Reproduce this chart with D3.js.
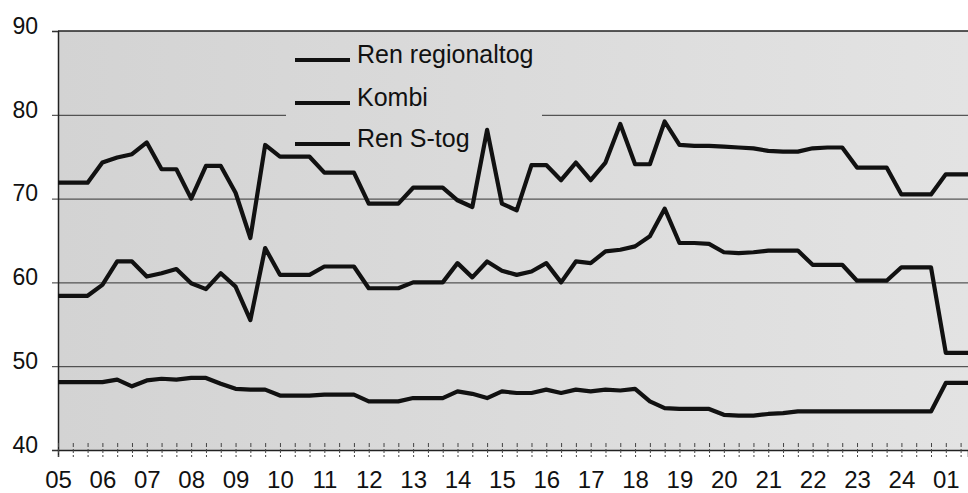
<!DOCTYPE html>
<html>
<head>
<meta charset="utf-8">
<script src="https://cdn.jsdelivr.net/npm/d3@7"></script>
<style>
  html, body { margin: 0; padding: 0; background: #fff; }
  svg { display: block; font-family: "Liberation Sans", Arial, sans-serif; }
</style>
</head>
<body>
<div class="main-container"></div>
<script>
// x labels, one every third point
const xLabels = ["05","06","07","08","09","10","11","12","13","14","15","16","17","18","19","20","21","22","23","24","01"];
const yTicks = [40, 50, 60, 70, 80, 90];
const seriesNames = ["Ren regionaltog", "Kombi", "Ren S-tog"];

// last point sits just past the right edge (the lines run flat off the chart)
const renRegional = [71.9,71.9,71.9,74.3,74.9,75.3,76.7,73.5,73.5,70.0,73.9,73.9,70.7,65.3,76.4,75.0,75.0,75.0,73.1,73.1,73.1,
  69.4,69.4,69.4,71.3,71.3,71.3,69.8,69.0,78.2,69.4,68.6,74.0,74.0,72.2,74.3,72.2,74.3,78.9,74.1,74.1,
  79.2,76.4,76.3,76.3,76.2,76.1,76.0,75.7,75.6,75.6,76.0,76.1,76.1,73.7,73.7,73.7,70.5,70.5,70.5,72.9,72.9,72.9];
const kombi = [58.4,58.4,58.4,59.7,62.5,62.5,60.7,61.1,61.6,59.9,59.2,61.1,59.5,55.5,64.1,60.9,60.9,60.9,61.9,61.9,61.9,
  59.3,59.3,59.3,60.0,60.0,60.0,62.3,60.6,62.5,61.4,60.9,61.3,62.3,60.0,62.5,62.3,63.7,63.9,64.3,65.5,
  68.8,64.7,64.7,64.6,63.6,63.5,63.6,63.8,63.8,63.8,62.1,62.1,62.1,60.2,60.2,60.2,61.8,61.8,61.8,51.6,51.6,51.6];
const renStog = [48.1,48.1,48.1,48.1,48.4,47.6,48.3,48.5,48.4,48.6,48.6,47.9,47.3,47.2,47.2,46.5,46.5,46.5,46.6,46.6,46.6,
  45.8,45.8,45.8,46.2,46.2,46.2,47.0,46.7,46.2,47.0,46.8,46.8,47.2,46.8,47.2,47.0,47.2,47.1,47.3,45.8,
  45.0,44.9,44.9,44.9,44.2,44.1,44.1,44.3,44.4,44.6,44.6,44.6,44.6,44.6,44.6,44.6,44.6,44.6,44.6,48.0,48.0,48.0];

const W = 968, H = 493;
const L = 58, R = 968, T = 31, B = 450;

const svg = d3.select(".main-container").append("svg").attr("width", W).attr("height", H);

const x = d3.scaleLinear().domain([0, 61.5]).range([L, R]);
const y = d3.scaleLinear().domain([40, 90]).range([B, T]);

const defs = svg.append("defs");
const grad = defs.append("linearGradient").attr("id", "bg")
  .attr("gradientUnits", "userSpaceOnUse").attr("x1", L).attr("x2", R).attr("y1", 0).attr("y2", 0);
grad.append("stop").attr("offset", "0%").attr("stop-color", "#d3d3d3");
grad.append("stop").attr("offset", "100%").attr("stop-color", "#e3e3e3");
defs.append("clipPath").attr("id", "plot").append("rect")
  .attr("x", L).attr("y", 0).attr("width", R - L).attr("height", H);

// plot background
svg.append("rect").attr("x", L).attr("y", T).attr("width", R - L).attr("height", B - T).attr("fill", "url(#bg)");

// grid lines
const grid = svg.append("g").attr("transform", `translate(${L},0)`)
  .call(d3.axisLeft(y).tickValues(yTicks.slice(1, 5)).tickSize(-(R - L)).tickFormat(""));
grid.select(".domain").remove();
grid.selectAll("line").attr("stroke", "#333").attr("stroke-width", 1);

// legend box hides the grid under it
svg.append("rect").attr("x", 286).attr("y", 38).attr("width", 256).attr("height", 88).attr("fill", "url(#bg)");

// y axis
const yAxis = svg.append("g").attr("transform", `translate(${L},0)`)
  .call(d3.axisLeft(y).tickValues(yTicks).tickSize(6).tickPadding(14));
yAxis.select(".domain").attr("stroke", "#222").attr("stroke-width", 1.5);
yAxis.selectAll("line").attr("stroke", "#333");
yAxis.selectAll("text").attr("font-size", 23).attr("fill", "#111").attr("dy", "0.1em")
  .attr("font-family", "Liberation Sans, Arial, sans-serif");

// top border
svg.append("line").attr("x1", L).attr("x2", R).attr("y1", y(90)).attr("y2", y(90)).attr("stroke", "#222").attr("stroke-width", 1.5);

// x axis
const idx = d3.range(62);
const xAxis = svg.append("g").attr("transform", `translate(0,${B})`)
  .call(d3.axisBottom(x).tickValues(idx).tickSize(7).tickPadding(14)
    .tickFormat((d) => d % 3 === 0 ? xLabels[d / 3] : ""));
xAxis.select(".domain").attr("stroke", "#222").attr("stroke-width", 1.5);
xAxis.selectAll(".tick line").attr("y1", -7).attr("stroke", "#444").attr("stroke-dasharray", "4,2");
xAxis.selectAll("text").attr("font-size", 24).attr("fill", "#111")
  .attr("font-family", "Liberation Sans, Arial, sans-serif");

// series
const line = d3.line().x((d, i) => x(i)).y((d) => y(d));
const lines = svg.append("g").attr("clip-path", "url(#plot)");
for (const s of [renRegional, kombi, renStog]) {
  lines.append("path").datum(s).attr("d", line)
    .attr("fill", "none").attr("stroke", "#111").attr("stroke-width", 4.2)
    .attr("stroke-linejoin", "round");
}

// legend
const legendY = [60, 103, 144];
const legend = svg.append("g");
seriesNames.forEach((name, i) => {
  legend.append("line").attr("x1", 295).attr("x2", 350).attr("y1", legendY[i]).attr("y2", legendY[i])
    .attr("stroke", "#111").attr("stroke-width", 4.2);
  legend.append("text").attr("x", 357).attr("y", legendY[i] + 3).attr("font-size", 25).attr("fill", "#111")
    .text(name);
});
</script>
</body>
</html>
